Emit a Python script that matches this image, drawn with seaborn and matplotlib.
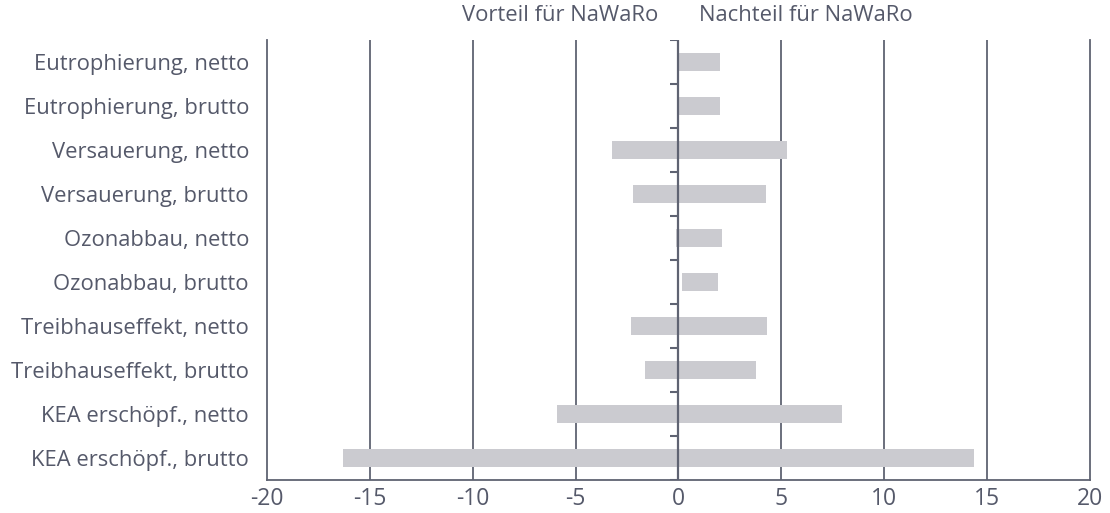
"""Range bars: Vor- und Nachteile fuer NaWaRo je Wirkungskategorie."""

import matplotlib.pyplot as plt
import matplotlib.transforms as mtransforms
import pandas as pd
import seaborn as sns

CATEGORIES = [
    "Eutrophierung, netto",
    "Eutrophierung, brutto",
    "Versauerung, netto",
    "Versauerung, brutto",
    "Ozonabbau, netto",
    "Ozonabbau, brutto",
    "Treibhauseffekt, netto",
    "Treibhauseffekt, brutto",
    "KEA erschöpf., netto",
    "KEA erschöpf., brutto",
]
LOW = [0.0, 0.0, -3.25, -2.2, -0.1, 0.15, -2.3, -1.65, -5.9, -16.3]
HIGH = [2.0, 2.0, 5.25, 4.25, 2.1, 1.9, 4.3, 3.75, 7.95, 14.35]
X_TICKS = [-20, -15, -10, -5, 0, 5, 10, 15, 20]
HEAD_LEFT = "Vorteil für NaWaRo"
HEAD_RIGHT = "Nachteil für NaWaRo"

BAR_COLOR = "#cbcbd0"
LINE_COLOR = "#5f6372"
TEXT_COLOR = "#55596a"


def main() -> None:
    sns.set_theme(style="white")
    plt.rcParams["font.family"] = ["Open Sans", "DejaVu Sans"]
    plt.rcParams["axes.unicode_minus"] = False

    df = pd.DataFrame({"category": CATEGORIES, "low": LOW, "high": HIGH})
    df["span"] = df["high"] - df["low"]

    fig = plt.figure(figsize=(11.1, 5.13), dpi=100)
    ax = fig.add_axes([0.2405, 0.0643, 0.7415, 0.858])

    # gridlines behind the bars
    for x in X_TICKS[1:-1]:
        ax.axvline(x, color=LINE_COLOR, linewidth=1.3, zorder=0)

    sns.barplot(data=df, x="span", y="category", order=CATEGORIES, color=BAR_COLOR,
                saturation=1, width=0.4, orient="h", ax=ax, zorder=1)
    # shift each bar so it floats from low to high
    for patch, left in zip(ax.patches, df["low"]):
        patch.set_x(left)
        patch.set_edgecolor("none")

    # small boundary ticks on the zero line
    bounds = [i - 0.5 for i in range(len(CATEGORIES) + 1)]
    ax.hlines(bounds, -0.4, 0, color=LINE_COLOR, linewidth=1.5, zorder=2)
    ax.axvline(0, color=LINE_COLOR, linewidth=1.6, zorder=2)

    ax.set_xlim(-20, 20)
    ax.set_ylim(len(CATEGORIES) - 0.5, -0.5)
    ax.set_xticks(X_TICKS)
    ax.set_xticklabels([str(v) for v in X_TICKS])
    ax.set_xlabel("")
    ax.set_ylabel("")

    for side in ["left", "right", "bottom"]:
        ax.spines[side].set_visible(True)
        ax.spines[side].set_color(LINE_COLOR)
        ax.spines[side].set_linewidth(1.3)
    ax.spines["top"].set_visible(False)

    ax.tick_params(axis="y", length=0, pad=13, labelsize=15.8, labelcolor=TEXT_COLOR)
    ax.tick_params(axis="x", length=0, pad=5, labelsize=16.5, labelcolor=TEXT_COLOR)

    trans = mtransforms.blended_transform_factory(ax.transData, ax.transAxes)
    ax.text(-1.0, 1.055, HEAD_LEFT, transform=trans, ha="right", va="center",
            fontsize=15.8, color=TEXT_COLOR)
    ax.text(1.0, 1.055, HEAD_RIGHT, transform=trans, ha="left", va="center",
            fontsize=15.8, color=TEXT_COLOR)

    fig.savefig("out.png", dpi=100)
    plt.close(fig)


if __name__ == "__main__":
    main()
